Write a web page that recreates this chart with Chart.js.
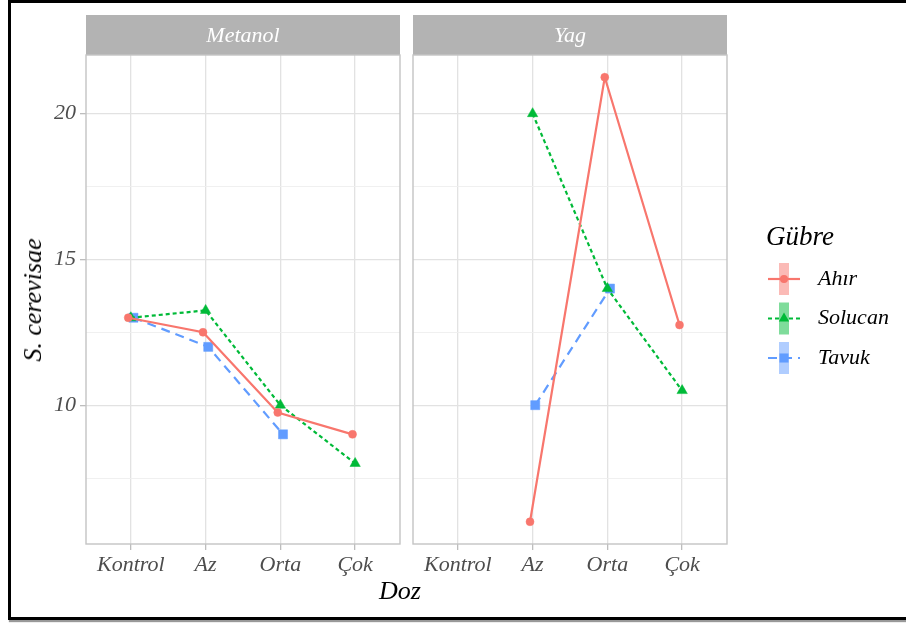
<!DOCTYPE html>
<html><head><meta charset="utf-8">
<script src="https://cdn.jsdelivr.net/npm/chart.js@4.4.1/dist/chart.umd.min.js"></script>
<style>
html,body{margin:0;padding:0;background:#fff;width:906px;height:623px;overflow:hidden;position:relative;font-family:'Liberation Serif',serif;}
#frame{position:absolute;left:8px;top:0;width:1000px;height:620px;box-sizing:border-box;border:3px solid #000;box-shadow:1px 2px 1px #999;}
canvas{position:absolute;top:0;}
#c1{left:0}
#c2{left:403px}
.ttl{position:absolute;font-style:italic;font-size:26px;line-height:26px;color:#000;white-space:nowrap;font-family:'Liberation Serif',serif;}
#ytitle{left:33px;top:300px;transform:translate(-50%,-50%) rotate(-90deg);}
#xtitle{left:400px;top:578px;transform:translateX(-50%);}
</style></head><body>
<div id="frame"></div>
<canvas id="c1" width="403" height="623"></canvas>
<canvas id="c2" width="503" height="623"></canvas>
<div class="ttl" id="ytitle">S. cerevisae</div>
<div class="ttl" id="xtitle">Doz</div>
<script>
// ---- data ----
const categories = ['Kontrol', 'Az', 'Orta', 'Çok'];
const panels = ['Metanol', 'Yag'];
const seriesNames = ['Ahır', 'Solucan', 'Tavuk'];
const metanolAhir    = [13, 12.5, 9.75, 9];
const metanolSolucan = [13, 13.25, 10, 8];
const metanolTavuk   = [13, 12, 9, null];
const yagAhir        = [null, 6, 21.25, 12.75];
const yagSolucan     = [null, 20, 14, 10.5];
const yagTavuk       = [null, 10, 14, null];
const yTicks = [10, 15, 20];
const yMinorTicks = [7.5, 12.5, 17.5];

// ---- styles ----
const colors = ['#F8766D', '#00BA38', '#619CFF'];
const dashes = [[], [4, 3], [9, 6]];
const pStyles = ['circle', 'triangle', 'rect'];
const pRadius = [4, 6, 6.4];
const dodge = [-0.035, 0, 0.035];
const FONT = "'Liberation Serif', serif";
const Y_MIN = 5.2375, Y_MAX = 22.0125;

function toPoints(vals, s) {
  const out = [];
  vals.forEach((v, i) => { if (v !== null) out.push({x: i + dodge[s], y: v}); });
  return out;
}
function makeDatasets(list) {
  return list.map((vals, s) => ({
    label: seriesNames[s],
    data: toPoints(vals, s),
    borderColor: colors[s],
    backgroundColor: colors[s],
    borderWidth: 2.2,
    borderDash: dashes[s],
    pointStyle: pStyles[s],
    pointRadius: pRadius[s],
    pointBorderWidth: 0.5,
    pointHoverRadius: pRadius[s],
    tension: 0,
    order: s
  }));
}

const panelPlugin = {
  id: 'panel',
  beforeDraw(chart) {
    const {ctx, chartArea: a} = chart;
    const label = chart.options.plugins.panel.label;
    ctx.save();
    ctx.fillStyle = '#B3B3B3';
    ctx.fillRect(a.left, 15, a.right - a.left, 40);
    ctx.fillStyle = '#ffffff';
    ctx.font = 'italic 22px ' + FONT;
    ctx.textAlign = 'center';
    ctx.textBaseline = 'middle';
    ctx.fillText(label, (a.left + a.right) / 2, 36);
    ctx.restore();
  },
  afterDraw(chart) {
    const {ctx, chartArea: a} = chart;
    ctx.save();
    ctx.strokeStyle = '#C4C4C4';
    ctx.lineWidth = 1.4;
    ctx.strokeRect(a.left, a.top, a.right - a.left, a.bottom - a.top);
    ctx.restore();
  }
};

function drawMarker(ctx, style, r, x, y, color) {
  ctx.fillStyle = color;
  ctx.beginPath();
  if (style === 'circle') {
    ctx.arc(x, y, r, 0, Math.PI * 2);
  } else if (style === 'triangle') {
    for (let k = 0; k < 3; k++) {
      const ang = k * 2 * Math.PI / 3;
      const px = x + Math.sin(ang) * r, py = y - Math.cos(ang) * r;
      if (k === 0) ctx.moveTo(px, py); else ctx.lineTo(px, py);
    }
    ctx.closePath();
  } else {
    const h = Math.SQRT1_2 * r;
    ctx.rect(x - h, y - h, 2 * h, 2 * h);
  }
  ctx.fill();
}

const legendPlugin = {
  id: 'gubreLegend',
  afterDraw(chart) {
    const ctx = chart.ctx;
    const off = 403;
    ctx.save();
    ctx.fillStyle = '#000';
    ctx.font = 'italic 27px ' + FONT;
    ctx.textAlign = 'left';
    ctx.textBaseline = 'alphabetic';
    ctx.fillText('Gübre', 766 - off, 245);
    const rows = [279, 318.5, 358];
    seriesNames.forEach((name, s) => {
      const cy = rows[s], cx = 784 - off;
      ctx.globalAlpha = 0.5;
      ctx.fillStyle = colors[s];
      ctx.fillRect(cx - 5, cy - 16, 10, 32);
      ctx.globalAlpha = 1;
      ctx.strokeStyle = colors[s];
      ctx.lineWidth = 2.2;
      ctx.setLineDash(dashes[s]);
      ctx.beginPath();
      ctx.moveTo(768 - off, cy);
      ctx.lineTo(800 - off, cy);
      ctx.stroke();
      ctx.setLineDash([]);
      drawMarker(ctx, pStyles[s], pRadius[s], cx, cy, colors[s]);
      ctx.fillStyle = '#000';
      ctx.font = 'italic 22px ' + FONT;
      ctx.textBaseline = 'middle';
      ctx.fillText(name, 818 - off, cy);
    });
    ctx.restore();
  }
};

function makeOptions(panelLabel, yWidth, showY, padRight) {
  return {
    responsive: false,
    animation: false,
    events: [],
    layout: {autoPadding: false, padding: {top: 55, left: 0, right: padRight, bottom: 0}},
    plugins: {legend: {display: false}, tooltip: {enabled: false}, panel: {label: panelLabel}},
    scales: {
      x: {
        type: 'linear',
        min: -0.6, max: 3.6,
        afterBuildTicks: (sc) => { sc.ticks = categories.map((c, i) => ({value: i})); },
        afterFit: (sc) => { sc.height = 79; },
        border: {display: false},
        grid: {color: '#E2E2E2', lineWidth: 1.3, tickLength: 6, tickColor: '#BDBDBD', tickWidth: 1.3},
        ticks: {
          autoSkip: false, maxRotation: 0, padding: 2, color: '#4D4D4D',
          font: {family: FONT, size: 22, style: 'italic'},
          callback: (v) => categories[Math.round(v)]
        }
      },
      y: {
        type: 'linear',
        min: Y_MIN, max: Y_MAX,
        afterBuildTicks: (sc) => {
          sc.ticks = yMinorTicks.concat(yTicks).sort((a, b) => a - b).map(v => ({value: v}));
        },
        afterFit: (sc) => { sc.width = yWidth; },
        border: {display: false},
        grid: {
          color: (c) => yTicks.includes(c.tick && c.tick.value) ? '#E2E2E2' : '#EEEEEE',
          lineWidth: (c) => yTicks.includes(c.tick && c.tick.value) ? 1.3 : 0.9,
          drawTicks: showY,
          tickLength: 6,
          tickColor: (c) => yTicks.includes(c.tick && c.tick.value) ? '#BDBDBD' : 'rgba(0,0,0,0)',
          tickWidth: 1.3
        },
        ticks: {
          display: showY, padding: 4, color: '#4D4D4D',
          font: {family: FONT, size: 22, style: 'italic'},
          callback: (v) => yTicks.includes(v) ? String(v) : ''
        }
      }
    }
  };
}

new Chart(document.getElementById('c1'), {
  type: 'line',
  data: {datasets: makeDatasets([metanolAhir, metanolSolucan, metanolTavuk])},
  options: makeOptions(panels[0], 86, true, 3),
  plugins: [panelPlugin]
});
new Chart(document.getElementById('c2'), {
  type: 'line',
  data: {datasets: makeDatasets([yagAhir, yagSolucan, yagTavuk])},
  options: makeOptions(panels[1], 10, false, 179),
  plugins: [panelPlugin, legendPlugin]
});
</script>
</body></html>
